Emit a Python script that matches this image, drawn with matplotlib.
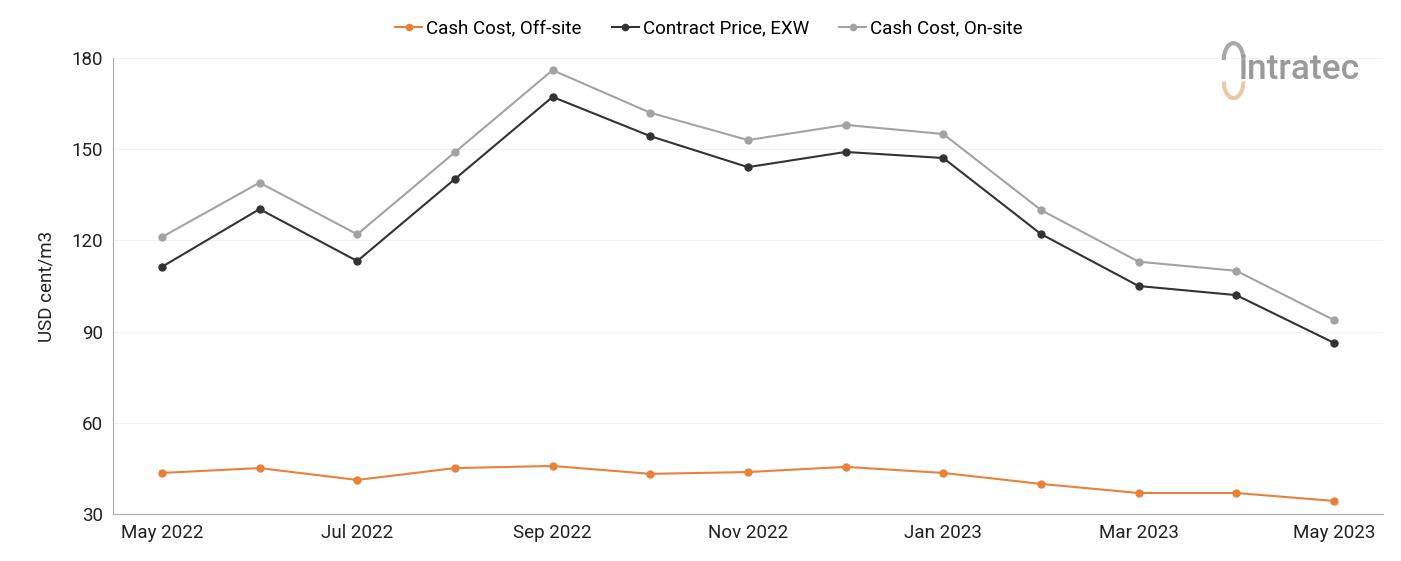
import matplotlib.pyplot as plt
from matplotlib.patches import Arc

plt.rcParams['font.family'] = ['Roboto', 'DejaVu Sans']

months = ['May 2022', 'Jun 2022', 'Jul 2022', 'Aug 2022', 'Sep 2022', 'Oct 2022', 'Nov 2022',
          'Dec 2022', 'Jan 2023', 'Feb 2023', 'Mar 2023', 'Apr 2023', 'May 2023']
off_site = [43.5, 45.1, 41.2, 45.1, 45.8, 43.2, 43.8, 45.5, 43.5, 39.9, 36.9, 36.9, 34.3]
contract = [111.3, 130.3, 113.2, 140.2, 167.2, 154.3, 144.1, 149.1, 147.1, 122.1, 105.0, 102.0, 86.3]
on_site = [121.1, 139.0, 122.0, 149.0, 176.0, 162.0, 153.0, 158.0, 155.0, 130.0, 113.0, 110.0, 93.8]

fig = plt.figure(figsize=(14.01, 5.61), dpi=100)
ax = fig.add_axes([0.0807, 0.0838, 0.9063, 0.8128])

x = list(range(len(months)))
ax.plot(x, off_site, color='#E8823A', marker='o', markersize=5, linewidth=1.5, label='Cash Cost, Off-site')
ax.plot(x, contract, color='#333333', marker='o', markersize=5, linewidth=1.5, label='Contract Price, EXW')
ax.plot(x, on_site, color='#A3A3A3', marker='o', markersize=5, linewidth=1.5, label='Cash Cost, On-site')

ax.set_ylim(30, 180)
ax.set_yticks([30, 60, 90, 120, 150, 180])
ax.set_xlim(-0.5, 12.5)
ax.set_xticks(x[::2])
ax.set_xticklabels(months[::2])
ax.tick_params(length=0, labelsize=13.5, colors='#222222', pad=7)
ax.grid(axis='y', color='#F2F2F2', linewidth=0.8)
ax.set_axisbelow(True)
for s in ['top', 'right']:
    ax.spines[s].set_visible(False)
for s in ['left', 'bottom']:
    ax.spines[s].set_color('#AAAAAA')
ax.set_ylabel('USD cent/m3', fontsize=13.5, color='#222222', labelpad=12)

fig.legend(loc='upper center', bbox_to_anchor=(0.506, 0.996), ncol=3, frameon=False,
           fontsize=13.5, handlelength=1.45, handletextpad=0.2, columnspacing=1.6,
           markerscale=0.9)

# logo
fig.text(0.884, 0.877, 'intratec', fontsize=25.5, color='#9A9A9A', fontweight='medium',
         ha='left', va='center')
fig.add_artist(Arc((0.8805, 0.855), 0.014, 0.06, theta1=180, theta2=360,
                   transform=fig.transFigure, color='#E8C9A8', linewidth=3))
fig.add_artist(Arc((0.8805, 0.893), 0.014, 0.06, theta1=0, theta2=180,
                   transform=fig.transFigure, color='#A8A8A8', linewidth=3))

fig.savefig('out.png', dpi=100)
